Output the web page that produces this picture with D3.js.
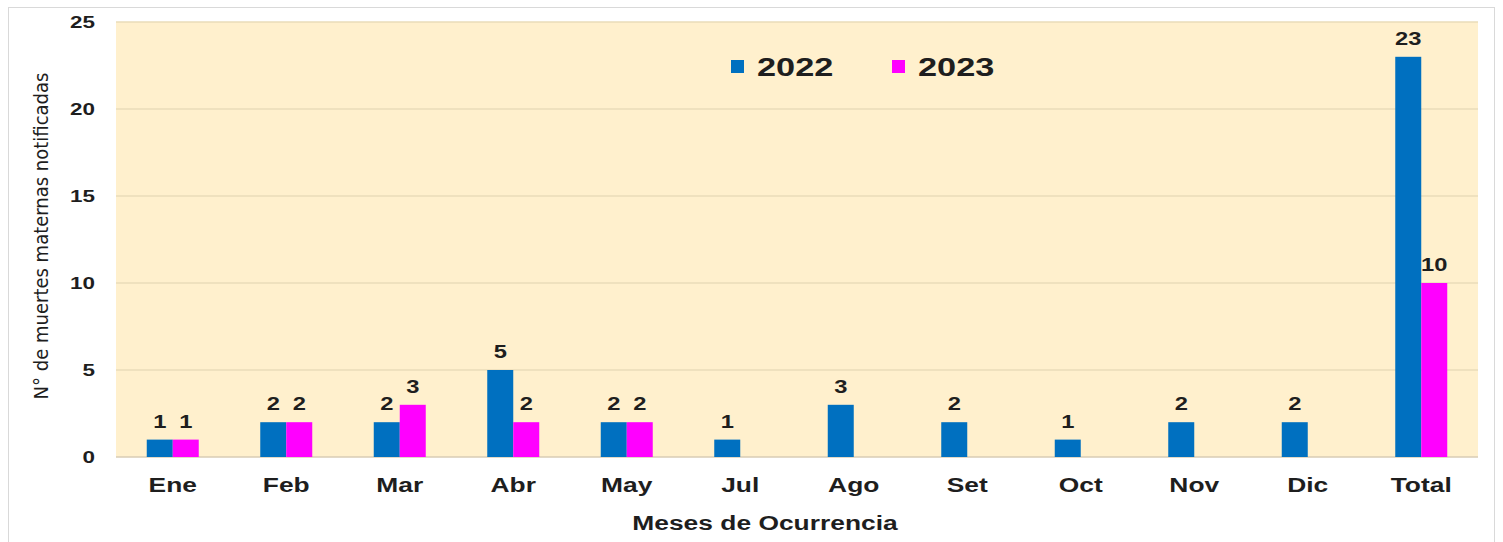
<!DOCTYPE html>
<html><head>
<meta charset="utf-8">
<script src="https://d3js.org/d3.v7.min.js"></script>
<style>
  body { margin: 0; background: #fff; }
  text { font-family: "Liberation Sans", Arial, sans-serif; }
</style>
</head>
<body>
<svg id="chart" width="1503" height="542"></svg>
<script>
// data
let months = ["Ene", "Feb", "Mar", "Abr", "May", "Jul", "Ago", "Set", "Oct", "Nov", "Dic", "Total"];
let v2022 = [1, 2, 2, 5, 2, 1, 3, 2, 1, 2, 2, 23];
let v2023 = [1, 2, 3, 2, 2, null, null, null, null, null, null, 10];
let years = ["2022", "2023"];
let yTicks = [0, 5, 10, 15, 20, 25];
let colors = ["#0070C0", "#FF00FF"];

let svg = d3.select("#chart");
let stretch = 1.32; // the original text looks widened

// bold text, stretched sideways around its anchor point
function boldText(px, py, str, size, anchor, cls) {
  return svg.append("text")
    .attr("class", cls || null)
    .attr("transform", "translate(" + px + "," + py + ") scale(" + stretch + ",1)")
    .attr("text-anchor", anchor || "middle")
    .style("font-size", size + "px").style("font-weight", "bold").style("fill", "#1e1e1e")
    .text(str);
}

// outer frame
svg.append("rect")
  .attr("x", 8.5).attr("y", 7.5)
  .attr("width", 1486).attr("height", 540)
  .style("fill", "white").style("stroke", "#d9d9d9");

let plotL = 116, plotR = 1478, plotT = 22, plotB = 457;

let x = d3.scaleBand().domain(months).range([plotL, plotR]);
let y = d3.scaleLinear().domain([0, 25]).range([plotB, plotT]);
let barW = 26;

// plot background
svg.append("rect")
  .attr("x", plotL).attr("y", plotT)
  .attr("width", plotR - plotL).attr("height", plotB - plotT)
  .style("fill", "#FFF0CD");

// gridlines
svg.selectAll("line.grid")
  .data(yTicks)
  .enter().append("line")
  .attr("class", "grid")
  .attr("x1", plotL).attr("x2", plotR)
  .attr("y1", d => y(d)).attr("y2", d => y(d))
  .style("stroke", d => d == 0 ? "#d8cdb4" : "#eadcb8")
  .style("stroke-width", 1.3);

// y axis tick labels
yTicks.forEach(t => boldText(95, y(t) + 6, t, 17, "end", "ytick"));

// bars for both years
let series = [v2022, v2023];
series.forEach((vals, s) => {
  let rows = months.map((m, i) => ({m: m, v: vals[i]})).filter(d => d.v != null);
  svg.selectAll("rect.bar" + s)
    .data(rows)
    .enter().append("rect")
    .attr("class", "bar" + s)
    .attr("x", d => x(d.m) + x.bandwidth() / 2 - barW + s * barW)
    .attr("y", d => y(d.v))
    .attr("width", barW)
    .attr("height", d => y(0) - y(d.v))
    .style("fill", colors[s]);

  rows.forEach(d => {
    let cx = x(d.m) + x.bandwidth() / 2 - barW / 2 + s * barW;
    boldText(cx, y(d.v) - 12, d.v, 18, "middle", "lab" + s);
  });
});

// x labels
months.forEach(m => boldText(x(m) + x.bandwidth() / 2, 492, m, 20, "middle", "xtick"));

// axis titles
boldText(765, 530, "Meses de Ocurrencia", 20, "middle");

svg.append("text")
  .attr("transform", "translate(48,236) rotate(-90)")
  .attr("text-anchor", "middle")
  .style("font-size", "20px").style("fill", "#1e1e1e")
  .style("font-family", "'Liberation Sans Narrow', 'DejaVu Sans Condensed', sans-serif")
  .text("N° de muertes maternas notificadas");

// legend
let legX = [731, 892];
years.forEach((yr, i) => {
  svg.append("rect")
    .attr("x", legX[i]).attr("y", 60)
    .attr("width", 13).attr("height", 13)
    .style("fill", colors[i]);
  boldText(legX[i] + 26, 76, yr, 26, "start");
});
</script>
</body>
</html>
